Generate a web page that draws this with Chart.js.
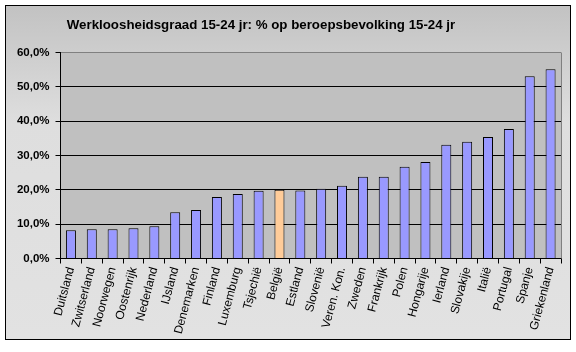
<!DOCTYPE html>
<html>
<head>
<meta charset="utf-8">
<script src="https://cdn.jsdelivr.net/npm/chart.js@4/dist/chart.umd.min.js"></script>
<style>
html,body{margin:0;padding:0;background:#fff;}
#wrap{width:576px;height:352px;position:relative;}
</style>
</head>
<body>
<div id="wrap"><canvas id="c" width="576" height="352"></canvas></div>
<script>
const titleText = 'Werkloosheidsgraad 15-24 jr: % op beroepsbevolking 15-24 jr';
const categories = ['Duitsland','Zwitserland','Noorwegen','Oostenrijk','Nederland','IJsland','Denemarken','Finland','Luxemburg','Tsjechië','België','Estland','Slovenië','Veren. Kon.','Zweden','Frankrijk','Polen','Hongarije','Ierland','Slovakije','Italië','Portugal','Spanje','Griekenland'];
const values = [8.2, 8.5, 8.5, 8.8, 9.4, 13.5, 14.1, 17.9, 18.8, 19.7, 20.0, 19.8, 20.3, 21.2, 23.8, 23.8, 26.7, 28.1, 33.1, 34.0, 35.4, 37.7, 53.1, 55.1];
const highlight = 'België';
const yTicks = [0, 10, 20, 30, 40, 50, 60];

const bgPlugin = {
  id: 'bg',
  beforeDraw(chart) {
    const ctx = chart.ctx;
    ctx.save();
    ctx.fillStyle = '#ffffff';
    ctx.fillRect(0, 0, chart.width, chart.height);
    const g = ctx.createLinearGradient(0, 5, 0, 339);
    g.addColorStop(0, '#c2c2c2');
    g.addColorStop(0.35, '#dedede');
    g.addColorStop(1, '#e2e2e2');
    ctx.fillStyle = g;
    ctx.fillRect(5, 5, 565, 334);
    const a = chart.chartArea;
    ctx.fillStyle = '#c0c0c0';
    ctx.fillRect(a.left, a.top, a.right - a.left, a.bottom - a.top);
    ctx.restore();
  },
  beforeDatasetsDraw(chart) {
    const ctx = chart.ctx, a = chart.chartArea;
    ctx.save();
    ctx.strokeStyle = '#808080';
    ctx.lineWidth = 1;
    ctx.beginPath();
    ctx.moveTo(Math.round(a.right) + 0.5, a.top);
    ctx.lineTo(Math.round(a.right) + 0.5, a.bottom);
    ctx.stroke();
    ctx.restore();
  },
  afterDraw(chart) {
    const ctx = chart.ctx;
    ctx.save();
    ctx.strokeStyle = '#000';
    ctx.lineWidth = 1;
    ctx.strokeRect(5.5, 5.5, 565, 334);
    ctx.fillStyle = '#000';
    ctx.font = 'bold 13.3px "Liberation Sans", Arial, sans-serif';
    ctx.textAlign = 'center';
    ctx.textBaseline = 'alphabetic';
    ctx.fillText(titleText, 261, 28.5);
    ctx.restore();
  }
};

new Chart(document.getElementById('c'), {
  type: 'bar',
  data: {
    labels: categories,
    datasets: [{
      data: values,
      backgroundColor: categories.map(c => c === highlight ? '#ffcc99' : '#9999ff'),
      borderColor: '#000',
      borderWidth: 1,
      barPercentage: 0.48,
      categoryPercentage: 1
    }]
  },
  options: {
    responsive: false,
    animation: false,
    events: [],
    layout: { padding: { left: 0, right: 15, top: 52.5, bottom: 0 } },
    plugins: {
      legend: { display: false },
      tooltip: { enabled: false },
      title: { display: false }
    },
    scales: {
      x: {
        afterFit(s) { s.height = 93.5; },
        grid: { drawOnChartArea: false, color: '#000', tickLength: 5, offset: true },
        border: { color: '#000' },
        ticks: {
          color: '#000',
          autoSkip: false,
          minRotation: 75,
          maxRotation: 75,
          padding: 2,
          font: { family: 'Liberation Sans, Arial, sans-serif', size: 12 }
        }
      },
      y: {
        min: 0,
        max: 60,
        afterFit(s) { s.width = 60.5; },
        afterBuildTicks(s) { s.ticks = yTicks.map(v => ({ value: v })); },
        grid: {
          color: ctx => (ctx.tick && ctx.tick.value === 60) ? '#808080' : '#000',
          tickColor: '#000',
          tickLength: 5
        },
        border: { color: '#000' },
        ticks: {
          color: '#000',
          padding: 6,
          font: { family: 'Liberation Sans, Arial, sans-serif', size: 11.5, weight: 'bold' },
          callback: v => v.toFixed(1).replace('.', ',') + '%'
        }
      }
    }
  },
  plugins: [bgPlugin]
});
</script>
</body>
</html>
